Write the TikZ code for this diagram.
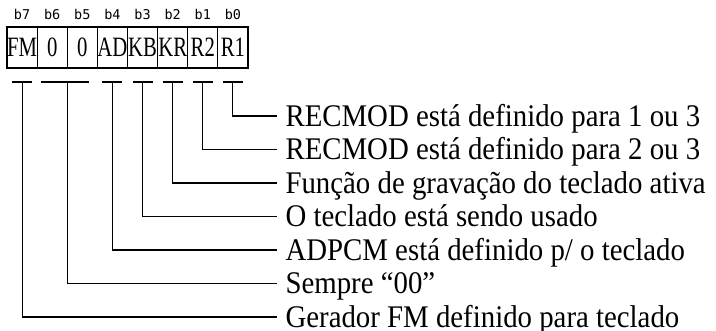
\documentclass[tikz,border=0pt]{standalone}
\usepackage{fontspec}
\setmainfont{Liberation Serif}[FakeStretch=0.915]
\newfontfamily\cellfont{Liberation Serif}[FakeStretch=0.74]
\newfontfamily\bitfont{DejaVu Sans Mono}
\begin{document}
\begin{tikzpicture}[x=1pt,y=-1pt,line width=1.1pt,
  cell/.style={draw,minimum width=30.125pt,minimum height=41pt,inner sep=0pt,
    font=\cellfont\fontsize{28}{28}\selectfont},
  bit/.style={anchor=base,inner sep=0pt,font=\bitfont\fontsize{13.5}{13.5}\selectfont},
  desc/.style={anchor=west,inner xsep=8pt,inner ysep=0pt,text height=21pt,text depth=0pt,
    font=\fontsize{31.5}{31.5}\selectfont},
  lead/.style={line cap=butt}]
\useasboundingbox (0,0) rectangle (716,331);

% register cells with their bit numbers
\foreach \n/\t [count=\i from 0] in {7/FM,6/0,5/0,4/AD,3/KB,2/KR,1/R2,0/R1} {
  \node[cell] (c\n) at (22.06+30.125*\i,47.5) {\t};
  \node[bit] (b\n) at (22.06+30.125*\i,20) {b\n};
}

% descriptions
\node[desc] (d0) at (277,116)   {RECMOD está definido para 1 ou 3};
\node[desc] (d1) at (277,149.5) {RECMOD está definido para 2 ou 3};
\node[desc] (d2) at (277,183)   {Função de gravação do teclado ativa};
\node[desc] (d3) at (277,216.5) {O teclado está sendo usado};
\node[desc] (d4) at (277,250)   {ADPCM está definido p/ o teclado};
\node[desc] (d5) at (277,283.5) {Sempre “00”};
\node[desc] (d7) at (277,317)   {Gerador FM definido para teclado};

% tee marks under the cells
\foreach \n in {0,1,2,3,4,7} {
  \coordinate (t\n) at (c\n.center |- 0,82);
  \draw[lead] ([xshift=-10pt]t\n) -- ([xshift=10pt]t\n);
}
\coordinate (t5) at (c6.east |- 0,82);
\draw[lead] ([xshift=-27pt]t5) -- ([xshift=21pt]t5);

% leader lines
\foreach \n in {0,1,2,3,4,5,7} {
  \draw[lead] (t\n) |- (d\n.west);
}
\end{tikzpicture}
\end{document}
